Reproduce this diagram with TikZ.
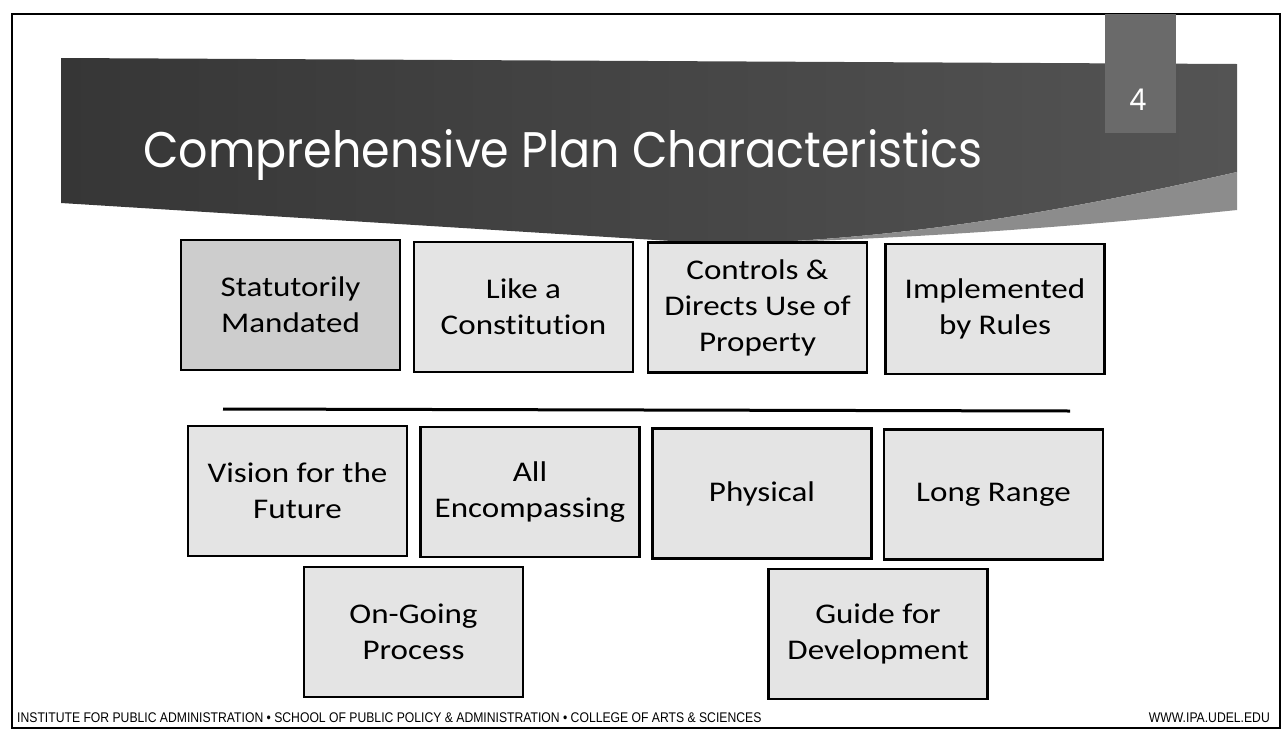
\documentclass[tikz,border=0pt]{standalone}
\usepackage{fontspec}
\setmainfont{Carlito}
\newfontfamily\boxfont[FakeStretch=1.16,Ligatures=NoCommon]{Carlito}
\newfontfamily\titlefont[FakeStretch=0.92]{Poppins}
\newfontfamily\footfont[FakeStretch=0.87]{Liberation Sans}
\definecolor{bannerdark}{HTML}{363636}
\definecolor{bannermid}{HTML}{545454}
\definecolor{bannerlight}{HTML}{8C8C8C}
\definecolor{tabgray}{HTML}{6A6A6A}
\definecolor{boxgray}{HTML}{E4E4E4}
\definecolor{boxdark}{HTML}{CDCDCD}

\begin{document}
\begin{tikzpicture}[x=1pt,y=-1pt,
  charbox/.style={draw=black,line width=2.4pt,fill=boxgray,
    minimum width=219pt,minimum height=130pt,inner sep=0pt,align=center,
    font=\boxfont\fontsize{28.5}{36}\selectfont},
  foot/.style={font=\footfont\fontsize{14}{16}\selectfont}]
\useasboundingbox (0,0) rectangle (1283,734);
\fill[white] (0,0) rectangle (1283,734);
\draw[line width=1.5pt] (12,14) rectangle (1280,728);

% title banner
\shade[left color=bannerdark,right color=bannermid] (61,58) -- (1237,64) -- (1237,172)
  .. controls (1060,212) and (900,240) .. (720,244) -- (61,203) -- cycle;
\fill[bannerlight] (1237,172) .. controls (1060,212) and (900,240) .. (720,244)
  .. controls (950,238) and (1120,222) .. (1237,210) -- cycle;
\fill[tabgray] (1105,14) rectangle (1176,133);
\node[anchor=base,text=white,font=\titlefont\fontsize{30}{32}\selectfont] (slideno) at (1138,110) {4};
\node[anchor=base west,inner sep=0pt,text=white,font=\titlefont\fontsize{50}{56}\selectfont] (title) at (143,167) {Comprehensive Plan Characteristics};

% upper row
\node[charbox,fill=boxdark] (statutory) at (290.5,305) {Statutorily\\Mandated};
\node[charbox] (constitution) at (523.5,307) {Like a\\Constitution};
\node[charbox] (controls) at (757.5,307.5) {Controls \&\\Directs Use of\\Property};
\node[charbox] (rules) at (995,309) {Implemented\\by Rules};

\draw[line width=3pt] (223,409) -- (1070,411);

% lower rows
\node[charbox] (vision) at (297.5,491) {Vision for the\\Future};
\node[charbox] (encompass) at (530,492) {All\\Encompassing};
\node[charbox] (physical) at (762,493.5) {Physical};
\node[charbox] (longrange) at (993.5,494.5) {Long Range};
\node[charbox] (ongoing) at (413.5,632) {On-Going\\Process};
\node[charbox] (guide) at (878,634) {Guide for\\Development};

% footer
\node[foot,anchor=base west,inner sep=0pt] (institute) at (17,722) {INSTITUTE FOR PUBLIC ADMINISTRATION • SCHOOL OF PUBLIC POLICY \& ADMINISTRATION • COLLEGE OF ARTS \& SCIENCES};
\node[foot,anchor=base east,inner sep=0pt] (website) at (1270,722) {WWW.IPA.UDEL.EDU};
\end{tikzpicture}
\end{document}
